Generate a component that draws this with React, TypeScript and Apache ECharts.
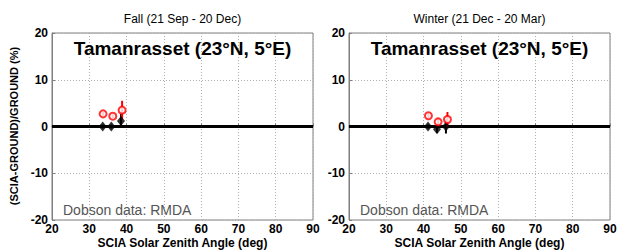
import React, { useEffect, useRef } from "react";
import * as echarts from "echarts";

const panelTitles = ["Fall (21 Sep - 20 Dec)", "Winter (21 Dec - 20 Mar)"];
const stationTitle = "Tamanrasset (23°N, 5°E)";
const sourceNote = "Dobson data: RMDA";
const xAxisTitle = "SCIA Solar Zenith Angle (deg)";
const yAxisTitle = "(SCIA-GROUND)/GROUND (%)";

const fallBlackX = [33.6, 35.9, 38.5];
const fallBlackY = [0.0, 0.0, 1.2];
const fallBlackErr = [0.4, 0.4, 1.5];
const fallRedX = [33.7, 36.3, 38.8];
const fallRedY = [2.7, 2.2, 3.5];
const fallRedErr = [0.4, 0.4, 2.0];

const winterBlackX = [41.2, 43.6, 46.0];
const winterBlackY = [0.0, -0.6, 0.0];
const winterBlackErr = [0.4, 0.8, 1.5];
const winterRedX = [41.3, 43.9, 46.4];
const winterRedY = [2.3, 1.0, 1.5];
const winterRedErr = [0.5, 0.8, 1.6];

const FONT = "Liberation Sans, Arial, Helvetica, sans-serif";

function pts(xs: number[], ys: number[]) {
  return xs.map((x, i) => [x, ys[i]]);
}
function errs(xs: number[], ys: number[], es: number[]) {
  return xs.map((x, i) => [x, ys[i], es[i]]);
}

function errorSeries(idx: number, data: number[][], color: string) {
  return {
    type: "custom",
    xAxisIndex: idx,
    yAxisIndex: idx,
    z: 3,
    data,
    renderItem: (params: any, api: any) => {
      const x = api.value(0);
      const y = api.value(1);
      const e = api.value(2);
      const p1 = api.coord([x, y - e]);
      const p2 = api.coord([x, y + e]);
      return {
        type: "line",
        shape: { x1: p1[0], y1: p1[1], x2: p2[0], y2: p2[1] },
        style: { stroke: color, lineWidth: 2 },
      };
    },
  };
}

export default function App() {
  const ref = useRef<HTMLDivElement>(null);
  useEffect(() => {
    if (!ref.current) return;
    const chart = echarts.init(ref.current, null, { renderer: "svg" });
    const lefts = [52, 349];
    const W = 261;
    const grids = lefts.map((l) => ({
      left: l,
      top: 33,
      width: W,
      height: 187,
      containLabel: false,
      outerBoundsMode: "none",
      show: true,
      borderColor: "#7f7f7f",
      borderWidth: 1,
      backgroundColor: "#fff",
    }));
    const xAxes = [0, 1].map((i) => ({
      type: "value",
      gridIndex: i,
      min: 20,
      max: 90,
      interval: 10,
      axisLine: { show: true, lineStyle: { color: "#7f7f7f", width: 1 } },
      axisTick: { show: true, inside: true, length: 3, lineStyle: { color: "#7f7f7f" } },
      axisLabel: {
        fontFamily: FONT,
        fontSize: 12,
        fontWeight: "bold",
        color: "#000",
        margin: 3,
        lineHeight: 12,
      },
      splitLine: { show: true, lineStyle: { color: "#b0b0b0", type: [1, 2], width: 1 } },
    }));
    const yAxes = [0, 1].map((i) => ({
      type: "value",
      gridIndex: i,
      min: -20,
      max: 20,
      interval: 10,
      axisLine: { show: true, lineStyle: { color: "#7f7f7f", width: 1 } },
      axisTick: { show: true, inside: true, length: 3, lineStyle: { color: "#7f7f7f" } },
      axisLabel: { fontFamily: FONT, fontSize: 12, fontWeight: "bold", color: "#000", margin: 4 },
      splitLine: { show: true, lineStyle: { color: "#b0b0b0", type: [1, 2], width: 1 } },
    }));

    const panels = [
      { bx: fallBlackX, by: fallBlackY, be: fallBlackErr, rx: fallRedX, ry: fallRedY, re: fallRedErr },
      { bx: winterBlackX, by: winterBlackY, be: winterBlackErr, rx: winterRedX, ry: winterRedY, re: winterRedErr },
    ];
    const series: any[] = [];
    panels.forEach((p, i) => {
      series.push({
        type: "line",
        xAxisIndex: i,
        yAxisIndex: i,
        data: [[20, 0], [90, 0]],
        symbol: "none",
        lineStyle: { color: "#000", width: 3 },
        z: 2,
        silent: true,
      });
      series.push(errorSeries(i, errs(p.bx, p.by, p.be), "#000"));
      series.push(errorSeries(i, errs(p.rx, p.ry, p.re), "#ff0000"));
      series.push({
        type: "scatter",
        xAxisIndex: i,
        yAxisIndex: i,
        data: pts(p.bx, p.by),
        symbol: "diamond",
        symbolSize: [8, 10],
        itemStyle: { color: "#000" },
        z: 4,
      });
      series.push({
        type: "scatter",
        xAxisIndex: i,
        yAxisIndex: i,
        data: pts(p.rx, p.ry),
        symbol: "circle",
        symbolSize: 7,
        itemStyle: { color: "#fff", borderColor: "#ff0000", borderWidth: 2 },
        z: 5,
      });
    });

    const titles: any[] = [];
    lefts.forEach((l, i) => {
      titles.push({
        type: "text",
        x: l + W / 2,
        y: 19,
        style: {
          text: panelTitles[i],
          fontFamily: FONT,
          fontSize: 12,
          fill: "#000",
          align: "center",
          verticalAlign: "middle",
        },
      });
      titles.push({
        type: "text",
        x: l + W / 2,
        y: 48,
        z: 10,
        style: {
          text: stationTitle,
          fontFamily: FONT,
          fontSize: 19,
          fontWeight: "bold",
          fill: "#000",
          align: "center",
          verticalAlign: "middle",
        },
      });
      titles.push({
        type: "text",
        x: l + 11,
        y: 210,
        z: 10,
        style: {
          text: sourceNote,
          fontFamily: FONT,
          fontSize: 14,
          fill: "#555",
          align: "left",
          verticalAlign: "middle",
        },
      });
      titles.push({
        type: "text",
        x: l + W / 2,
        y: 243,
        style: {
          text: xAxisTitle,
          fontFamily: FONT,
          fontSize: 12,
          lineHeight: 12,
          fontWeight: "bold",
          fill: "#000",
          align: "center",
          verticalAlign: "middle",
        },
      });
    });
    titles.push({
      type: "text",
      x: 14,
      y: 126,
      rotation: Math.PI / 2,
      style: {
        text: yAxisTitle,
        fontFamily: FONT,
        fontSize: 11,
        fontWeight: "bold",
        fill: "#000",
        align: "center",
        verticalAlign: "middle",
      },
    });

    chart.setOption({
      animation: false,
      backgroundColor: "#fff",
      grid: grids,
      xAxis: xAxes,
      yAxis: yAxes,
      series,
      graphic: titles,
    });
    return () => chart.dispose();
  }, []);
  return (
    <div
      ref={ref}
      style={{ position: "absolute", left: 0, top: 0, width: 629, height: 251 }}
    />
  );
}
